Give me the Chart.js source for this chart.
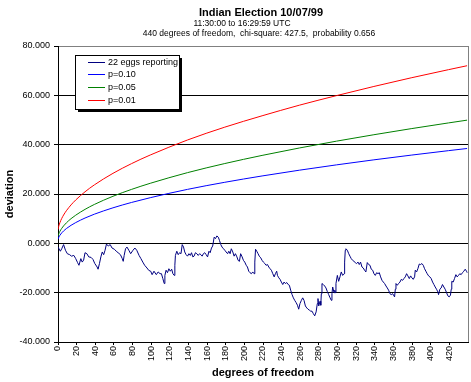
<!DOCTYPE html>
<html><head><meta charset="utf-8">
<script src="https://cdn.jsdelivr.net/npm/chart.js@4"></script>
<style>html,body{margin:0;padding:0;background:#fff;}canvas{display:block;}</style>
</head><body>
<canvas id="c" width="471" height="382" style="width:471px;height:382px"></canvas>
<script>
const FONT = '"Liberation Sans", Arial, sans-serif';
const titleText = 'Indian Election 10/07/99';
const subtitleLines = ['11:30:00 to 16:29:59 UTC', '440 degrees of freedom,  chi-square: 427.5,  probability 0.656'];
const seriesNames = ['22 eggs reporting', 'p=0.10', 'p=0.05', 'p=0.01'];
const seriesColors = ['#000080', '#0000FF', '#008000', '#FF0000'];
const xAxisTitle = 'degrees of freedom';
const yAxisTitle = 'deviation';

// observed cumulative deviation: [degrees of freedom, deviation]
const eggs = [
[0,-1.5],[2.5,-3.2],[4,-2.2],[6,-0.5],[8,-2.8],[10,-4.2],[12.5,-4.6],[14.5,-5.2],[17,-4.9],[19,-6.2],
[21,-7.8],[22.5,-8.9],[24.5,-6.2],[26,-7.6],[27.5,-6.8],[29,-3.8],[31,-4.2],[33,-5.5],[35.5,-5.7],[37.5,-6.5],
[39.5,-8.2],[42,-9.6],[43,-10.5],[44.5,-8.2],[46,-5.5],[47.5,-3.5],[49,-4.6],[50.5,-2.8],[52,-0.3],[54,-1.1],
[56,-0.5],[58,-1.9],[60.5,-2.4],[62.5,-3.2],[64.5,-3.8],[67,-4.6],[69,-6.2],[70,-7.3],[71,-4.9],[72.5,-2.2],
[74,-1.5],[76,-2.8],[78,-4.2],[80.5,-2.8],[82.5,-1.9],[84.5,-2.8],[87,-4.9],[89,-6.2],[91,-7.6],[93,-8.9],
[95.5,-10],[97.5,-11],[99.5,-11.3],[101,-12.7],[103,-11.3],[105.5,-12.7],[107.5,-11.6],[109.5,-12.3],[111,-12.3],[112.5,-14.3],
[114,-16.3],[114.7,-13],[116,-10.9],[117.5,-11.9],[119,-10.3],[120.5,-11.3],[122,-10.5],[123.3,-12.3],[124.7,-13],[125.4,-8.9],
[126,-4.9],[127.5,-3.2],[129,-4.6],[130.5,-3.8],[132,-4.2],[133.3,-0.5],[134.7,-1.5],[136,-3.5],[137.5,-4.6],[139,-5.2],
[140.5,-4.2],[142,-4.9],[143.3,-3.8],[144.7,-5.5],[146,-5.2],[147.5,-3.8],[149,-4.2],[150.5,-4.9],[152,-4.2],[153.3,-4.6],
[154.7,-5.2],[156,-4.2],[157.5,-3.8],[159,-4.6],[160.5,-5.5],[162,-3.2],[163.3,-3.8],[164.7,-1.9],[166,-1.1],[167.6,2.5],
[169,1.9],[170.5,3],[172,2.5],[173.3,1.2],[174.7,-0.5],[176,-1.5],[177.6,-2.2],[179,-2.8],[180.4,-3.5],[182,-4.2],
[183.3,-3.2],[184.7,-4.2],[186,-2.2],[187.6,-3.5],[189,-5.2],[190.4,-4.2],[192,-5.5],[193.3,-6.9],[194.7,-7.3],[196,-4.2],
[197.6,-5.5],[199,-6.9],[200.4,-7.6],[202,-8.9],[203.3,-9.6],[204.7,-11.3],[206,-11.9],[207.6,-12.3],[209,-11.6],[210.4,-12.3],
[211.2,-7.6],[212,-2.4],[213.3,-3.2],[214.7,-4.2],[216,-5.2],[217.6,-5.9],[219,-6.9],[220.4,-7.6],
[222,-8.2],[223.3,-8.9],[224.8,-8.6],[226.2,-9.6],[227.6,-10.3],[229,-10.9],[230.5,-12.3],[232,-13.6],[233.3,-12.3],[234.7,-11.3],
[235.5,-13],[237,-14],[238.3,-14.6],[239.7,-15.7],[241.2,-16.7],[242.6,-15.7],[244,-16.3],[245.5,-15.9],[247,-16.7],[248.3,-17],
[249.7,-19],[251.2,-20.8],[252.6,-22.1],[254,-23.1],[255.5,-24],[257,-25.1],[258.3,-26.7],[259.7,-24.4],[261.2,-23.1],[262.6,-22.1],
[264,-23.1],[265.5,-25.4],[267,-26.2],[268.3,-26.7],[269.8,-27.1],[271.2,-27.5],[272.6,-27.5],[274,-28.5],[275.5,-29.4],[277,-27.8],
[278.3,-24.4],[279,-22.4],[279.8,-25.4],[281.2,-23.5],[282,-25.1],[282.6,-20.4],[283.3,-16.3],[284.7,-16.7],[286.2,-17.3],[287.6,-18.1],
[289,-19.5],[290.5,-20.8],[292,-22.1],[293.3,-23.1],[294,-20.4],[294.8,-17.7],[296.2,-20],[297,-19],[297.6,-20],[298.3,-16.3],
[299.8,-13],[301.2,-15.4],[302.6,-13.6],[304,-11.6],[305.5,-13],[307,-12.3],[307.6,-7.6],[308.3,-2.8],[309,-2.2],[310.5,-2.8],
[312,-4.2],[313.3,-5.2],[314.7,-6.2],[316.2,-6.9],[317.6,-7.3],[319,-7.8],[320.4,-8.2],[322,-7.6],[323.3,-8.6],[324.7,-7.6],
[326.2,-9.6],[327.6,-10],[329,-10.9],[330.4,-11.6],
[331.9,-7.8],[333.4,-8.6],[334.8,-8.9],[336.2,-10.5],[337.7,-10.9],[339.1,-12.3],[340.5,-13],[342,-11.9],[343.4,-12.3],[344.8,-11.9],
[346.2,-13.6],[347.7,-15],[349.1,-15.7],[350.5,-16.3],[352,-17.3],[353.4,-18.1],[354.8,-19],[356.2,-20.4],[357.7,-20.8],[359.1,-20.4],
[360.5,-21.3],[361.2,-21.7],[362,-18.6],[362.7,-16.3],[364.1,-17],[365.5,-16.3],[367,-15.7],[368.4,-14.6],[369.8,-15],[371.2,-14.3],
[372.7,-13.6],[374.1,-12.3],[375.5,-13.2],[377,-14.3],[378.4,-13.2],[379.8,-14],[381.2,-14.6],[382.7,-13.6],[383.4,-10.9],[384.8,-11.6],
[386.2,-10.3],[387.7,-8.4],[389.1,-8.6],[390.5,-8.2],[392,-8.9],[393.4,-10.3],[394.8,-11.3],[396.2,-12.3],[397.7,-13.2],[399.1,-13.6],
[400.5,-14.3],[402,-15.7],[403.4,-16.7],[404.8,-17.7],[406.2,-18.6],[407.7,-19.7],[408.4,-20.8],[409.8,-18.6],[411.2,-18.1],[412.6,-16.7],
[414.1,-17.7],[415.5,-18.6],[417,-20],[418.4,-21.3],[419.8,-21.7],[421.2,-21],[422,-18.6],[422.6,-15.4],[424.1,-15.7],[425.5,-14.3],
[427,-12.7],[428.4,-13.6],[429.8,-13],[431.2,-12.3],[432.6,-12.7],[434.1,-11.9],[435.5,-11.3],[437,-10.5],[438.4,-11.3],[439.1,-11.9]
];

// significance envelopes, read at these x positions
const curveX = [0,1,2,4,6,9,14,19,29,39,59,79,99,139,179,219,259,299,339,379,419,439];
const p10 = [1.71,2.61,3.25,4.24,5.02,5.99,7.31,8.41,10.26,11.81,14.40,16.58,18.50,21.88,24.75,27.31,29.65,31.82,33.85,35.76,37.57,38.45];
const p05 = [2.84,3.99,4.82,6.07,7.07,8.31,10.00,11.41,13.77,15.76,19.08,21.88,24.34,28.66,32.35,35.64,38.65,41.43,44.03,46.49,48.81,49.94];
const p01 = [5.63,7.21,8.35,10.09,11.48,13.21,15.58,17.57,20.89,23.69,28.38,32.33,35.81,41.90,47.10,51.70,56.00,59.90,63.60,67.10,70.40,72.00];

const xMin = 0, xMax = 440, xStep = 20;
const yMin = -40, yMax = 80, yStep = 20;

const toPts = (xs, ys) => xs.map((x, i) => ({x, y: ys[i]}));

const titlePlugin = {
  id: 'titles',
  afterDraw(chart) {
    const ctx = chart.ctx;
    ctx.save();
    ctx.fillStyle = '#000';
    ctx.textAlign = 'center';
    ctx.textBaseline = 'alphabetic';
    ctx.font = 'bold 11px ' + FONT;
    ctx.fillText(titleText, 261, 16);
    ctx.font = '8.5px ' + FONT;
    ctx.fillText(subtitleLines[0], 242, 26);
    ctx.fillText(subtitleLines[1], 259, 36);
    ctx.restore();
  }
};

const legendPlugin = {
  id: 'boxLegend',
  afterDraw(chart) {
    const ctx = chart.ctx;
    const L = 75, T = 55, W = 104, H = 54;
    ctx.save();
    ctx.fillStyle = '#000';
    ctx.fillRect(L + 3, T + 3, W, H);
    ctx.fillStyle = '#fff';
    ctx.fillRect(L, T, W + 1, H + 1);
    ctx.strokeStyle = '#000';
    ctx.lineWidth = 1;
    ctx.strokeRect(L + 0.5, T + 0.5, W, H);
    ctx.font = '9px ' + FONT;
    ctx.textBaseline = 'middle';
    ctx.textAlign = 'left';
    chart.data.datasets.forEach((ds, i) => {
      const y = Math.round(61.5 + i * 12.8) + 0.5;
      ctx.strokeStyle = ds.borderColor;
      ctx.beginPath();
      ctx.moveTo(88, y);
      ctx.lineTo(105, y);
      ctx.stroke();
      ctx.fillStyle = '#000';
      ctx.fillText(ds.label, 108, y);
    });
    ctx.restore();
  }
};

new Chart(document.getElementById('c'), {
  type: 'line',
  data: {
    datasets: [
      {label: seriesNames[0], data: eggs.map(p => ({x: p[0], y: p[1]})), borderColor: seriesColors[0], borderWidth: 1, tension: 0},
      {label: seriesNames[1], data: toPts(curveX, p10), borderColor: seriesColors[1], borderWidth: 1, cubicInterpolationMode: 'monotone'},
      {label: seriesNames[2], data: toPts(curveX, p05), borderColor: seriesColors[2], borderWidth: 1, cubicInterpolationMode: 'monotone'},
      {label: seriesNames[3], data: toPts(curveX, p01), borderColor: seriesColors[3], borderWidth: 1, cubicInterpolationMode: 'monotone'}
    ]
  },
  options: {
    responsive: false,
    animation: false,
    devicePixelRatio: 1,
    layout: {padding: {top: 46, right: 3, left: 0, bottom: 0}},
    elements: {point: {radius: 0, hoverRadius: 0}},
    plugins: {legend: {display: false}, title: {display: false}, tooltip: {enabled: false}},
    scales: {
      x: {
        type: 'linear', min: xMin, max: xMax,
        ticks: {
          stepSize: xStep, autoSkip: false, minRotation: 90, maxRotation: 90, padding: 1,
          color: '#000', font: {family: FONT, size: 9},
          callback: v => (v === xMax ? '' : String(v))
        },
        grid: {
          color: c => (c.tick && c.tick.value === xMax ? '#808080' : 'rgba(0,0,0,0)'),
          tickColor: c => (c.tick && c.tick.value === xMax ? 'rgba(0,0,0,0)' : '#000'),
          tickLength: 3, lineWidth: 1
        },
        border: {color: '#000', width: 1},
        title: {display: true, text: xAxisTitle, color: '#000', font: {family: FONT, size: 11, weight: 'bold'}, padding: {top: 0, bottom: 2}},
        afterFit: s => { s.height = 40; s.paddingLeft = 0; s.paddingRight = 0; }
      },
      y: {
        min: yMin, max: yMax,
        ticks: {stepSize: yStep, padding: 4, color: '#000', font: {family: FONT, size: 9}, callback: v => Number(v).toFixed(3)},
        grid: {
          color: c => (c.tick && c.tick.value === yMax ? '#808080' : '#000'),
          tickColor: '#000', tickLength: 4, lineWidth: 1
        },
        border: {color: '#000', width: 1},
        title: {display: true, text: yAxisTitle, color: '#000', font: {family: FONT, size: 11, weight: 'bold'}, padding: {top: 3, bottom: 0}},
        afterFit: s => { s.width = 58; s.paddingTop = 0; s.paddingBottom = 0; }
      }
    }
  },
  plugins: [titlePlugin, legendPlugin]
});
</script>
</body></html>
